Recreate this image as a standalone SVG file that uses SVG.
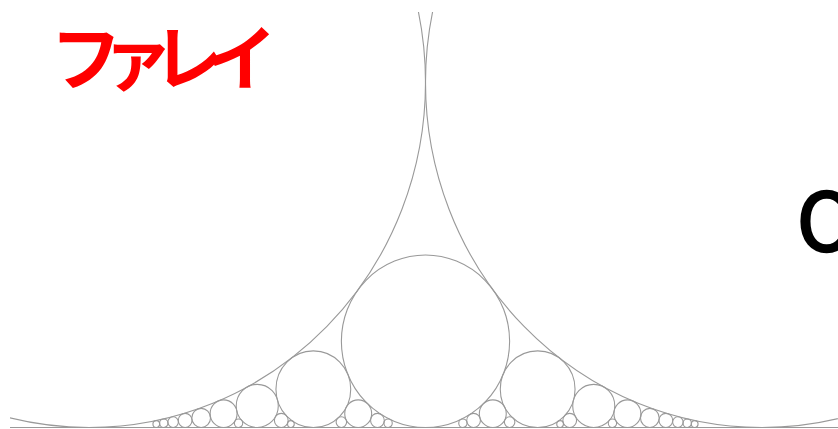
<svg xmlns="http://www.w3.org/2000/svg" width="838" height="429" viewBox="0 0 838 429">
<style>
.c{fill:none;stroke:#999;stroke-width:1.1;vector-effect:non-scaling-stroke}
.ttl{font-family:"Noto Sans CJK JP","Noto Sans",sans-serif}
</style>
<defs>
<clipPath id="area"><rect x="10" y="12" width="828" height="417"/></clipPath>
</defs>
<rect width="838" height="429" fill="#fff"/>
<g id="ford-circles" clip-path="url(#area)">
<line class="c" x1="0" y1="427.5" x2="838" y2="427.5"/>
<g transform="matrix(673 0 0 690 89 427.5)">
<circle class="c" cx="0" cy="-0.5" r="0.5"/>
<circle class="c" cx="1" cy="-0.5" r="0.5"/>
<circle class="c" cx="0.5" cy="-0.125" r="0.125"/>
<circle class="c" cx="0.333333" cy="-0.0555556" r="0.0555556"/>
<circle class="c" cx="0.666667" cy="-0.0555556" r="0.0555556"/>
<circle class="c" cx="0.25" cy="-0.03125" r="0.03125"/>
<circle class="c" cx="0.75" cy="-0.03125" r="0.03125"/>
<circle class="c" cx="0.2" cy="-0.02" r="0.02"/>
<circle class="c" cx="0.4" cy="-0.02" r="0.02"/>
<circle class="c" cx="0.6" cy="-0.02" r="0.02"/>
<circle class="c" cx="0.8" cy="-0.02" r="0.02"/>
<circle class="c" cx="0.166667" cy="-0.0138889" r="0.0138889"/>
<circle class="c" cx="0.833333" cy="-0.0138889" r="0.0138889"/>
<circle class="c" cx="0.142857" cy="-0.0102041" r="0.0102041"/>
<circle class="c" cx="0.285714" cy="-0.0102041" r="0.0102041"/>
<circle class="c" cx="0.428571" cy="-0.0102041" r="0.0102041"/>
<circle class="c" cx="0.571429" cy="-0.0102041" r="0.0102041"/>
<circle class="c" cx="0.714286" cy="-0.0102041" r="0.0102041"/>
<circle class="c" cx="0.857143" cy="-0.0102041" r="0.0102041"/>
<circle class="c" cx="0.125" cy="-0.0078125" r="0.0078125"/>
<circle class="c" cx="0.375" cy="-0.0078125" r="0.0078125"/>
<circle class="c" cx="0.625" cy="-0.0078125" r="0.0078125"/>
<circle class="c" cx="0.875" cy="-0.0078125" r="0.0078125"/>
<circle class="c" cx="0.111111" cy="-0.0061728" r="0.0061728"/>
<circle class="c" cx="0.222222" cy="-0.0061728" r="0.0061728"/>
<circle class="c" cx="0.444444" cy="-0.0061728" r="0.0061728"/>
<circle class="c" cx="0.555556" cy="-0.0061728" r="0.0061728"/>
<circle class="c" cx="0.777778" cy="-0.0061728" r="0.0061728"/>
<circle class="c" cx="0.888889" cy="-0.0061728" r="0.0061728"/>
<circle class="c" cx="0.1" cy="-0.005" r="0.005"/>
<circle class="c" cx="0.3" cy="-0.005" r="0.005"/>
<circle class="c" cx="0.7" cy="-0.005" r="0.005"/>
<circle class="c" cx="0.9" cy="-0.005" r="0.005"/>
</g>
</g>
<g id="title">
<text class="ttl" fill="#ff0000" font-size="71" font-weight="700" text-anchor="middle" x="86 137.5 188.5 241.5" y="84">ファレイ</text>
</g>
<g id="edge-letter">
<text class="ttl" fill="#000" stroke="#000" stroke-width="2.5" font-size="80" font-weight="400" x="797" y="251">O</text>
</g>
</svg>
